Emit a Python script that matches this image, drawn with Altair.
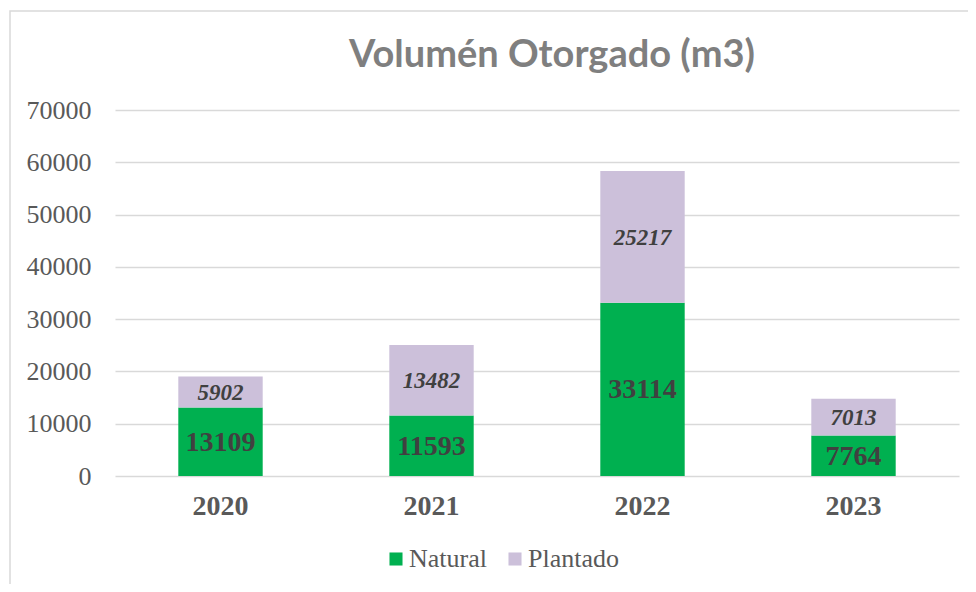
import altair as alt
import pandas as pd

years = ["2020", "2021", "2022", "2023"]
natural = [13109, 11593, 33114, 7764]
plantado = [5902, 13482, 25217, 7013]
series = ["Natural", "Plantado"]
colors = ["#00B050", "#CCC0DA"]
y_ticks = [0, 10000, 20000, 30000, 40000, 50000, 60000, 70000]

rows = []
for i, y in enumerate(years):
    rows.append({"year": y, "serie": "Natural", "value": natural[i], "ord": 0})
    rows.append({"year": y, "serie": "Plantado", "value": plantado[i], "ord": 1})
df = pd.DataFrame(rows)

SERIF = "Liberation Serif"

frame = alt.Chart(pd.DataFrame({"a": [0]})).mark_rect(
    filled=False, stroke="#D9D9D9", strokeWidth=1.5, clip=False
).encode(x=alt.value(-105), x2=alt.value(900), y=alt.value(-99), y2=alt.value(600))

base = alt.Chart(df).transform_stack(
    stack="value", groupby=["year"], as_=["v0", "v1"], sort=[alt.SortField("ord")]
).transform_calculate(mid="(datum.v0 + datum.v1) / 2")

x_axis = alt.Axis(labelAngle=0, labelFont=SERIF, labelFontSize=28,
                  labelFontWeight="bold", labelColor="#595959",
                  labelPadding=16, ticks=False, domain=False, grid=False)
y_axis = alt.Axis(values=y_ticks, labelFont=SERIF, labelFontSize=26,
                  labelColor="#595959", labelPadding=24, ticks=False,
                  domain=False, gridColor="#D9D9D9", gridWidth=1.5,
                  format="d")
x_scale = alt.Scale(paddingInner=0.6, paddingOuter=0.3)
y_scale = alt.Scale(domain=[0, 70000], nice=False)

bars = base.mark_bar().encode(
    x=alt.X("year:N", title=None, sort=years, scale=x_scale, axis=x_axis),
    y=alt.Y("v0:Q", title=None, scale=y_scale, axis=y_axis),
    y2="v1:Q",
    color=alt.Color("serie:N", sort=series,
                    scale=alt.Scale(domain=series, range=colors),
                    legend=alt.Legend(title=None, orient="none", direction="horizontal",
                                      legendX=268, legendY=436,
                                      labelFont=SERIF, labelFontSize=26,
                                      labelColor="#595959", symbolType="square",
                                      symbolSize=170, symbolStrokeWidth=0,
                                      columnPadding=15, labelOffset=0)),
)

txt_nat = base.transform_filter(alt.datum.serie == "Natural").mark_text(
    font=SERIF, fontSize=28, fontWeight="bold", color="#404040", baseline="middle", dy=1
).encode(x=alt.X("year:N", sort=years, scale=x_scale, axis=x_axis),
         y=alt.Y("mid:Q", scale=y_scale, axis=y_axis),
         text=alt.Text("value:Q", format="d"))

txt_pl = base.transform_filter(alt.datum.serie == "Plantado").mark_text(
    font=SERIF, fontSize=23, fontWeight="bold", fontStyle="italic", color="#404040",
    baseline="middle", dy=1
).encode(x=alt.X("year:N", sort=years, scale=x_scale, axis=x_axis),
         y=alt.Y("mid:Q", scale=y_scale, axis=y_axis),
         text=alt.Text("value:Q", format="d"))

chart = alt.layer(frame, bars, txt_nat, txt_pl).properties(
    width=844, height=366,
    background="white",
    view=alt.ViewBackground(stroke="transparent", strokeWidth=0, strokeOpacity=0),
    title=alt.TitleParams("Volumén Otorgado (m3)", font="Lato", fontSize=38,
                          fontWeight="bold", color="#7F7F7F", offset=0, dx=15, dy=65,
                          frame="group", anchor="middle"),
    autosize=alt.AutoSizeParams(type="none"),
    padding={"left": 107, "top": 102, "right": 9, "bottom": 108},
).configure_view(stroke="transparent", strokeWidth=0, strokeOpacity=0
).configure_axis(domain=False).configure_axisX(grid=False)

chart.save("out.html", embed_options={"renderer": "svg", "actions": False})
